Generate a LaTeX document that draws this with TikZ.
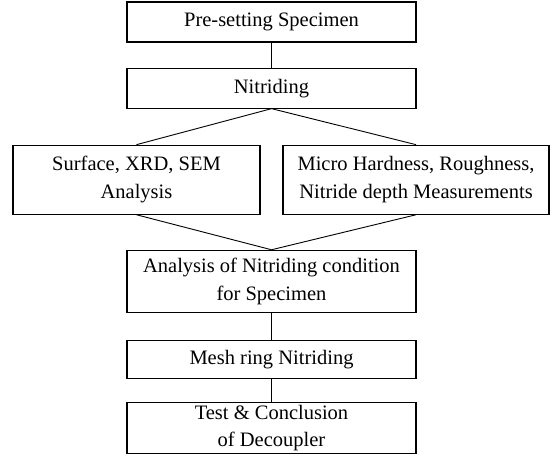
\documentclass[tikz,border=0pt]{standalone}
\usepackage{fontspec}
\setmainfont{Liberation Serif}
\usetikzlibrary{positioning}
\tikzset{
  box/.style={draw=black,line width=1.1pt,fill=white,align=center,
              minimum width=289pt,inner sep=2pt,font=\fontsize{20.5}{27.5}\selectfont},
  link/.style={draw=black,line width=0.9pt}
}

\begin{document}
\begin{tikzpicture}[x=1pt,y=-1pt]
  \useasboundingbox (0,0) rectangle (553,459);
  \node[box,minimum height=40pt] (pre) at (271.5,22) {Pre-setting Specimen};
  \node[box,minimum height=40pt,below=25pt of pre] (nit) {Nitriding};
  \node[box,minimum width=247pt,minimum height=69pt,below=36pt of nit,xshift=-135pt] (surf) {Surface, XRD, SEM\\Analysis};
  \node[box,minimum width=266pt,minimum height=69pt,below=36pt of nit,xshift=144.5pt] (micro) {Micro Hardness, Roughness,\\Nitride depth Measurements};
  \coordinate (mid) at (surf.south -| nit.south);
  \node[box,minimum height=62pt,below=35pt of mid] (anal) {Analysis of Nitriding condition\\for Specimen};
  \node[box,minimum height=38pt,below=27pt of anal] (mesh) {Mesh ring Nitriding};
  \node[box,minimum height=51pt,below=23pt of mesh] (test) {Test \& Conclusion\\of Decoupler};
  \draw[link] (pre) -- (nit);
  \foreach \c in {surf,micro}{\draw[link] (nit.south) -- (\c.north); \draw[link] (\c.south) -- (anal.north);}
  \draw[link] (anal) -- (mesh);
  \draw[link] (mesh) -- (test);
\end{tikzpicture}
\end{document}
